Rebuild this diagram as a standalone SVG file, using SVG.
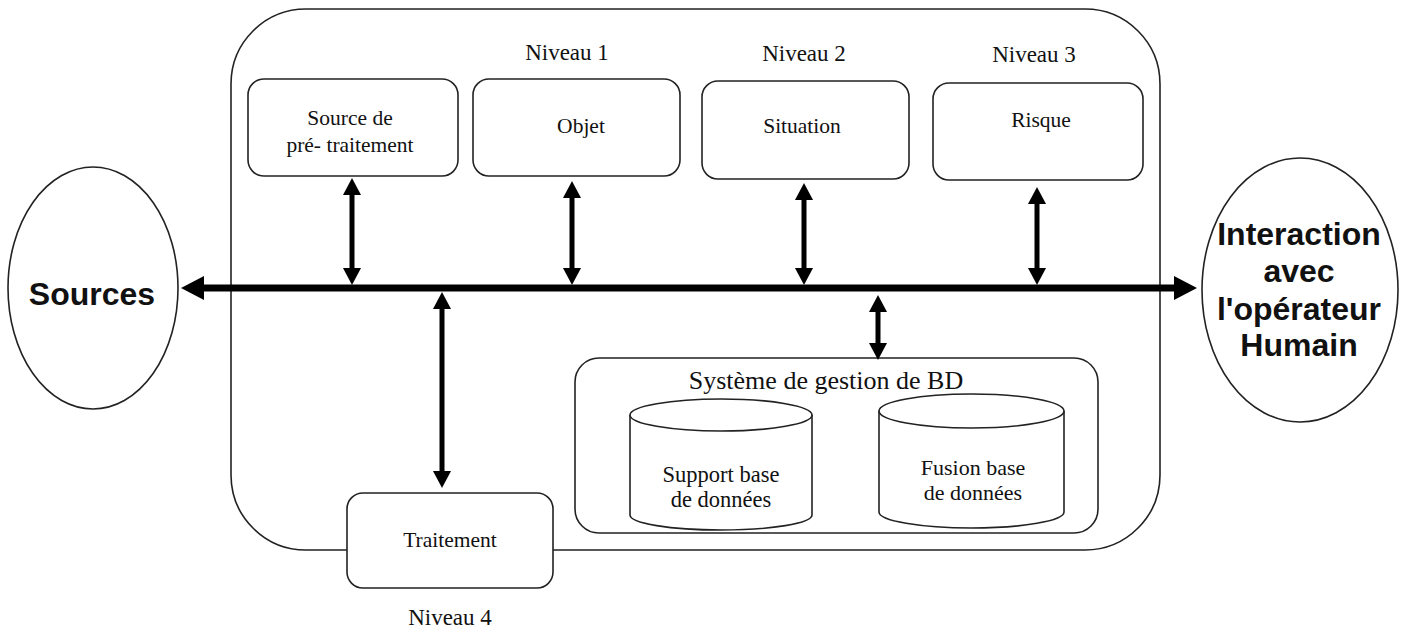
<svg xmlns="http://www.w3.org/2000/svg" width="1403" height="634" viewBox="0 0 1403 634">
<style>
.shape{fill:#fff;stroke:#222;stroke-width:1.6}
.serif{font-family:"Liberation Serif","Times New Roman",serif;fill:#111;text-anchor:middle}
.bold{font-family:"Liberation Sans",Arial,sans-serif;font-weight:bold;fill:#111;text-anchor:middle;font-size:32px}
.bus{stroke:#000;stroke-width:7;fill:none}
.link{stroke:#000;stroke-width:5;fill:none}
</style>
<defs>
<marker id="bighead" markerUnits="userSpaceOnUse" markerWidth="24" markerHeight="26" refX="2" refY="13" orient="auto-start-reverse">
<path d="M0,1 L23,13 L0,25 z" fill="#000"/>
</marker>
<marker id="head" markerUnits="userSpaceOnUse" markerWidth="18" markerHeight="20" refX="2" refY="10" orient="auto-start-reverse">
<path d="M0,1 L17,10 L0,19 z" fill="#000"/>
</marker>
</defs>
<rect fill="#fff" x="0" y="0" width="1403" height="634"/>

<g id="container">
<rect class="shape" x="231" y="9" width="929" height="541" rx="75" ry="75"/>
</g>

<g id="sources">
<ellipse class="shape" cx="93" cy="288" rx="85" ry="121"/>
<text class="bold" x="92" y="305">Sources</text>
</g>

<g id="interaction">
<ellipse class="shape" cx="1300" cy="290" rx="98" ry="132"/>
<text class="bold" x="1299" y="245">Interaction</text>
<text class="bold" x="1299" y="282">avec</text>
<text class="bold" x="1299" y="320">l'opérateur</text>
<text class="bold" x="1299" y="356">Humain</text>
</g>

<g id="niveaux">
<text class="serif" font-size="23" x="567" y="60">Niveau 1</text>
<text class="serif" font-size="23" x="804" y="61">Niveau 2</text>
<text class="serif" font-size="23" x="1034" y="62">Niveau 3</text>
<text class="serif" font-size="23" x="450" y="625">Niveau 4</text>
</g>

<g id="pretraitement">
<rect class="shape" x="248" y="79" width="210" height="97" rx="16"/>
<text class="serif" font-size="21.5" x="350" y="125">Source de</text>
<text class="serif" font-size="21.5" x="350" y="152">pré- traitement</text>
</g>

<g id="objet">
<rect class="shape" x="473" y="79" width="207" height="97" rx="16"/>
<text class="serif" font-size="21.5" x="581" y="133">Objet</text>
</g>

<g id="situation">
<rect class="shape" x="702" y="81" width="207" height="98" rx="16"/>
<text class="serif" font-size="21.5" x="802" y="133">Situation</text>
</g>

<g id="risque">
<rect class="shape" x="933" y="83" width="210" height="97" rx="16"/>
<text class="serif" font-size="21.5" x="1041" y="127">Risque</text>
</g>

<g id="traitement">
<rect class="shape" x="347" y="493" width="206" height="95" rx="16"/>
<text class="serif" font-size="21.5" x="450" y="547">Traitement</text>
</g>

<g id="sgbd">
<rect class="shape" x="575" y="358" width="523" height="175" rx="24"/>
<text class="serif" font-size="26" x="826" y="389">Système de gestion de BD</text>
</g>

<g id="support-db">
<path class="shape" d="M630,415 L630,515 A91,15 0 0 0 812,515 L812,415"/>
<ellipse class="shape" cx="721" cy="415" rx="91" ry="16"/>
<text class="serif" font-size="22.5" x="721" y="482">Support base</text>
<text class="serif" font-size="22.5" x="721" y="507">de données</text>
</g>

<g id="fusion-db">
<path class="shape" d="M879,411 L879,512 A92.5,16 0 0 0 1064,512 L1064,411"/>
<ellipse class="shape" cx="971.5" cy="411" rx="92.5" ry="17"/>
<text class="serif" font-size="22" x="973" y="475">Fusion base</text>
<text class="serif" font-size="22" x="973" y="500">de données</text>
</g>

<g id="connectors">
<line class="bus" x1="202" y1="288" x2="1176" y2="288" marker-start="url(#bighead)" marker-end="url(#bighead)"/>
<line class="link" x1="352" y1="193" x2="352" y2="270" marker-start="url(#head)" marker-end="url(#head)"/>
<line class="link" x1="572" y1="196" x2="572" y2="270" marker-start="url(#head)" marker-end="url(#head)"/>
<line class="link" x1="804" y1="198" x2="804" y2="270" marker-start="url(#head)" marker-end="url(#head)"/>
<line class="link" x1="1037" y1="202" x2="1037" y2="270" marker-start="url(#head)" marker-end="url(#head)"/>
<line class="link" x1="442" y1="307" x2="442" y2="473" marker-start="url(#head)" marker-end="url(#head)"/>
<line class="link" x1="878" y1="310" x2="878" y2="345" marker-start="url(#head)" marker-end="url(#head)"/>
</g>
</svg>
